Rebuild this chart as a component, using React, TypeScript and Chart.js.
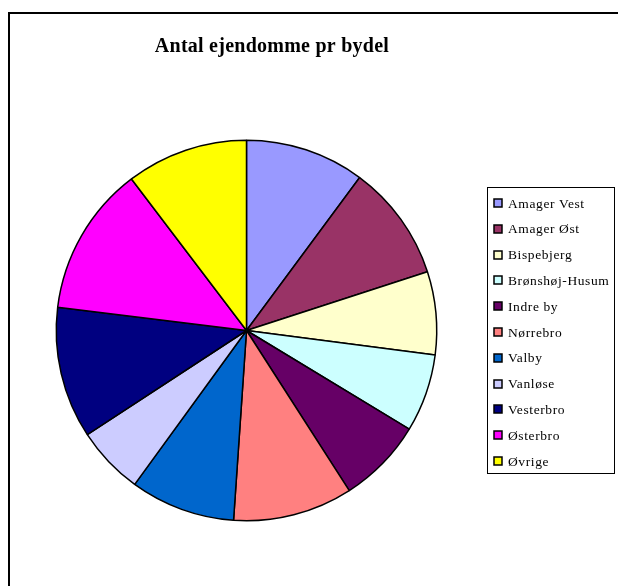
import React, { useEffect, useRef } from "react";
import { Chart, registerables } from "chart.js";

Chart.register(...registerables);

const TITLE = "Antal ejendomme pr bydel";
const DISTRICTS = [
  "Amager Vest",
  "Amager Øst",
  "Bispebjerg",
  "Brønshøj-Husum",
  "Indre by",
  "Nørrebro",
  "Valby",
  "Vanløse",
  "Vesterbro",
  "Østerbro",
  "Øvrige",
];
const PROPERTY_COUNTS = [365, 355, 254, 238, 261, 366, 321, 208, 402, 458, 372];
const SLICE_COLORS = [
  "#9999FF",
  "#993366",
  "#FFFFCC",
  "#CCFFFF",
  "#660066",
  "#FF8080",
  "#0066CC",
  "#CCCCFF",
  "#000080",
  "#FF00FF",
  "#FFFF00",
];

const decorPlugin = {
  id: "excelDecor",
  afterDraw(chart: any) {
    const ctx = chart.ctx as CanvasRenderingContext2D;
    ctx.save();
    // outer frame
    ctx.strokeStyle = "#000";
    ctx.lineWidth = 2;
    ctx.strokeRect(9, 13, 800, 800);
    // title
    ctx.fillStyle = "#000";
    ctx.font = "bold 20px 'Liberation Serif', 'Times New Roman', serif";
    (ctx as any).letterSpacing = "0.25px";
    ctx.textAlign = "center";
    ctx.textBaseline = "alphabetic";
    ctx.fillText(TITLE, 272, 52);
    // legend
    const labels = chart.data.labels as string[];
    const colors = chart.data.datasets[0].backgroundColor as string[];
    ctx.lineWidth = 1;
    ctx.strokeStyle = "#000";
    ctx.strokeRect(487.5, 187.5, 127, 286);
    ctx.font = "13.5px 'Liberation Serif', 'Times New Roman', serif";
    (ctx as any).letterSpacing = "0.6px";
    ctx.textAlign = "left";
    ctx.textBaseline = "middle";
    labels.forEach((lab, i) => {
      const cy = 203 + i * 25.8;
      ctx.fillStyle = colors[i];
      ctx.fillRect(494, Math.round(cy) - 4, 8, 8);
      ctx.lineWidth = 1.5;
      ctx.strokeStyle = "#000";
      ctx.strokeRect(494, Math.round(cy) - 4, 8, 8);
      ctx.fillStyle = "#000";
      ctx.fillText(lab, 508, cy + 1);
    });
    ctx.restore();
  },
};

export default function App() {
  const ref = useRef<HTMLCanvasElement | null>(null);
  useEffect(() => {
    if (!ref.current) return;
    const chart = new Chart(ref.current, {
      type: "pie",
      data: {
        labels: DISTRICTS,
        datasets: [
          {
            data: PROPERTY_COUNTS,
            backgroundColor: SLICE_COLORS,
            borderColor: "#000",
            borderWidth: 1.5,
            borderAlign: "center",
          },
        ],
      },
      options: {
        responsive: false,
        animation: false,
        layout: { padding: { left: 55.5, top: 139.5, right: 180.5, bottom: 64.5 } },
        plugins: {
          legend: { display: false },
          title: { display: false },
          tooltip: { enabled: false },
        },
      },
      plugins: [decorPlugin],
    });
    return () => chart.destroy();
  }, []);
  return (
    <div style={{ position: "absolute", left: 0, top: 0, width: 618, height: 586, background: "#fff" }}>
      <canvas ref={ref} width={618} height={586} style={{ display: "block" }} />
    </div>
  );
}
